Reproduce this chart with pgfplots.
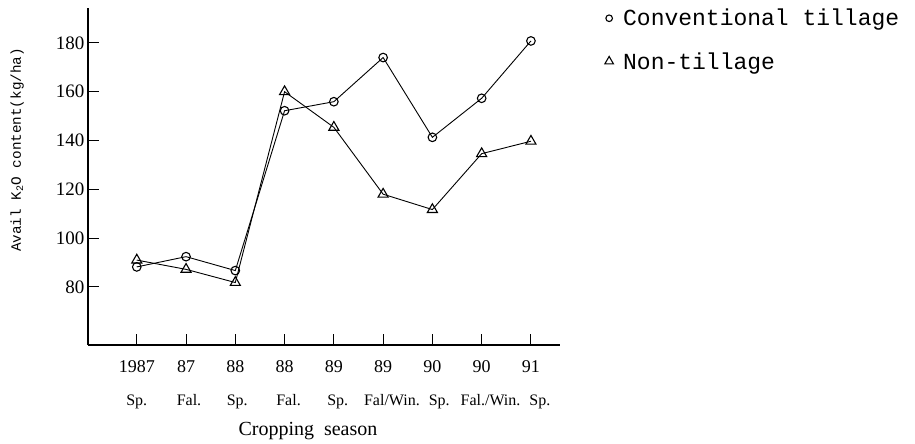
\documentclass[border=0pt]{standalone}
\usepackage{fontspec}
\setmainfont{Liberation Serif}
\setmonofont{Liberation Mono}
\usepackage{pgfplots}
\pgfplotsset{compat=1.18}
\begin{document}
\begin{tikzpicture}[x=1pt,y=1pt]
\useasboundingbox (0,0) rectangle (915,444);
\begin{axis}[
  at={(88pt,99pt)}, anchor=south west,
  scale only axis, width=472pt, height=337pt,
  xmin=-0.99, xmax=8.59, ymin=56.2, ymax=194.3,
  axis x line=bottom, axis y line=left,
  axis line style={-, line width=1.3pt},
  tick align=inside, major tick length=11pt,
  tick style={line width=1pt, black},
  xtick={0,...,8},
  xticklabels={1987,87,88,88,89,89,90,90,91},
  ytick={80,100,120,140,160,180},
  /pgf/number format/assume math mode=true,
  xticklabel style={font=\fontsize{18}{18}\selectfont, yshift=-12pt},
  yticklabel style={font=\fontsize{19}{19}\selectfont},
  xlabel={Cropping\ \ season},
  xlabel style={at={(axis description cs:0.466,0)}, anchor=base, yshift=-90pt, font=\fontsize{20}{20}\selectfont},
  ylabel={Avail K\textsubscript{2}O content(kg/ha)},
  ylabel style={at={(axis description cs:-0.150,0.579)}, anchor=center, rotate=0, font=\fontsize{14.3}{14.3}\selectfont\ttfamily},
  clip=false,
  legend style={at={(axis description cs:1.091,1.003)}, anchor=north west, draw=none, fill=none,
    font=\fontsize{23}{26}\selectfont\ttfamily, row sep=21pt, inner sep=0pt, nodes={inner sep=2pt}},
  legend cell align=left,
  legend image code/.code={\draw[#1,only marks] plot coordinates {(0pt,0pt)}; \path[draw=none] (-6pt,0pt) (12pt,0pt);},
]
\addplot[black, line width=0.9pt, mark=o, mark size=4.3pt, mark options={fill=white, line width=1.1pt},
  legend image post style={mark size=3.3pt}]
  coordinates {(0,88.2) (1,92.4) (2,86.7) (3,152.2) (4,155.9) (5,174) (6,141.3) (7,157.3) (8,180.8)};
\addlegendentry{Conventional tillage}
\addplot[black, line width=0.9pt, mark=triangle, mark size=5.8pt, mark options={fill=white, line width=1.1pt},
  legend image post style={mark size=5pt}]
  coordinates {(0,91) (1,87.2) (2,81.8) (3,160) (4,145.4) (5,118) (6,111.7) (7,134.6) (8,139.7)};
\addlegendentry{Non-tillage}
\foreach \xx/\lab in {0/{Sp.}, 1.06/{Fal.}, 2.04/{Sp.}, 3.08/{Fal.}, 4.08/{Sp.}, 5.18/{Fal/Win.}, 6.14/{Sp.}, 7.18/{Fal./Win.}, 8.18/{Sp.}}{
  \edef\tmp{\noexpand\node[anchor=base, inner sep=0pt, font=\noexpand\fontsize{16}{16}\noexpand\selectfont] at (axis cs:\xx,56.2) [yshift=-60pt] {\lab};}
  \tmp
}
\end{axis}
\end{tikzpicture}
\end{document}
